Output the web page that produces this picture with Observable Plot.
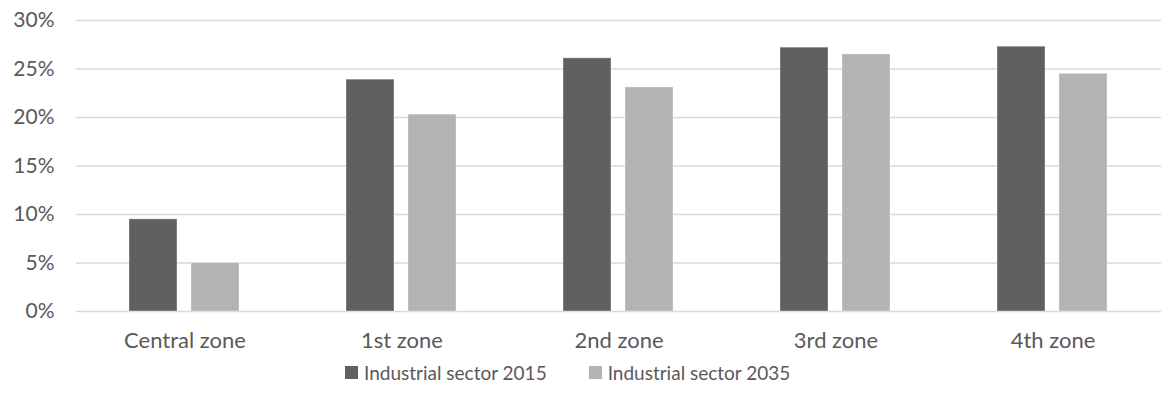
<!DOCTYPE html>
<html>
<head>
<meta charset="utf-8">
<script src="https://cdn.jsdelivr.net/npm/d3@7"></script>
<script src="https://cdn.jsdelivr.net/npm/@observablehq/plot@0.6"></script>
<style>
  html, body { margin: 0; padding: 0; background: #fff; }
  body { width: 1171px; height: 405px; overflow: hidden; font-family: Lato, "Liberation Sans", Arial, sans-serif; }
  #legend { margin-left: 345px; margin-top: 1px; }
  .leg-swatch { margin-right: 42px !important; color: #595959; font-size: 19px; }
  .leg-swatch > svg { margin-right: 6px !important; }
</style>
</head>
<body>
<div id="chart"></div>
<div id="legend"></div>
<script>
const zones = ["Central zone", "1st zone", "2nd zone", "3rd zone", "4th zone"];
const seriesNames = ["Industrial sector 2015", "Industrial sector 2035"];
const values2015 = [9.5, 23.9, 26.1, 27.2, 27.3];
const values2035 = [5.0, 20.3, 23.1, 26.5, 24.5];
const yTicks = [0, 5, 10, 15, 20, 25, 30];
const colors = ["#606060", "#b3b3b3"];

const data = [];
zones.forEach((z, i) => {
  data.push({zone: z, series: seriesNames[0], value: values2015[i]});
  data.push({zone: z, series: seriesNames[1], value: values2035[i]});
});

const chart = Plot.plot({
  width: 1171,
  height: 355,
  marginTop: 20,
  marginBottom: 44,
  marginLeft: 74,
  marginRight: 9,
  style: {fontFamily: "Lato, Liberation Sans, Arial, sans-serif", fontSize: "20px", color: "#595959", background: "#fff"},
  fx: {domain: zones, padding: 0, label: null, axis: null},
  x: {domain: seriesNames, paddingInner: 0.218, paddingOuter: 0.848, axis: null},
  y: {domain: [0, 30], ticks: yTicks, label: null},
  color: {domain: seriesNames, range: colors},
  marks: [
    Plot.ruleY(yTicks, {stroke: "#d9d9d9", strokeWidth: 1.5}),
    Plot.barY(data, {fx: "zone", x: "series", y: "value", fill: "series", stroke: "#ffffff", strokeOpacity: 0.35, strokeWidth: 1}),
    Plot.axisY(yTicks, {tickSize: 0, tickPadding: 22, tickFormat: d => d + "%", fontSize: 21, fill: "#595959"}),
    Plot.axisFx({anchor: "bottom", tickSize: 0, tickPadding: 21, fontSize: 22, fill: "#595959", label: null})
  ]
});
document.getElementById("chart").appendChild(chart);

const legend = Plot.legend({
  color: {domain: seriesNames, range: colors},
  legend: "swatches",
  swatchSize: 13,
  className: "leg",
  style: {fontFamily: "Lato, Liberation Sans, Arial, sans-serif"}
});
document.getElementById("legend").appendChild(legend);
</script>
</body>
</html>
